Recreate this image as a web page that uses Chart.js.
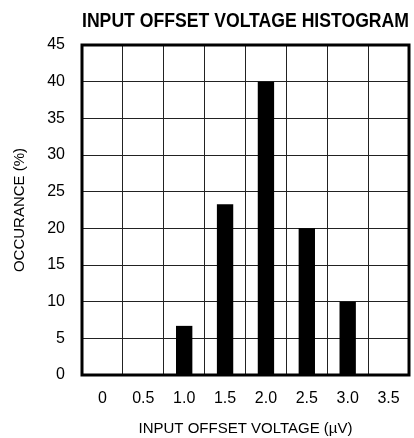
<!DOCTYPE html>
<html>
<head>
<meta charset="utf-8">
<script src="https://cdn.jsdelivr.net/npm/chart.js@4"></script>
<style>
  html, body { margin: 0; padding: 0; background: #fff; }
  #wrap { width: 414px; height: 438px; }
</style>
</head>
<body>
<div id="wrap"><canvas id="myChart"></canvas></div>
<script>
// histogram bins (µV) and occurance in %
const voltages = ['0', '0.5', '1.0', '1.5', '2.0', '2.5', '3.0', '3.5'];
const occurance = [0, 0, 6.7, 23.3, 40, 20, 10, 0];
const yTicks = [0, 5, 10, 15, 20, 25, 30, 35, 40, 45];

const narrow = "'Liberation Sans Narrow', 'Liberation Sans', sans-serif";

// thick black frame round the plot area
const frame = {
  id: 'frame',
  afterDraw(chart) {
    const a = chart.chartArea;
    const c = chart.ctx;
    c.save();
    c.strokeStyle = '#000';
    c.lineWidth = 3;
    c.strokeRect(a.left, a.top, a.right - a.left, a.bottom - a.top);
    c.restore();
  }
};

const ctx = document.getElementById('myChart');

new Chart(ctx, {
  type: 'bar',
  data: {
    labels: voltages,
    datasets: [{
      data: occurance,
      backgroundColor: '#000',
      borderWidth: 0,
      barPercentage: 0.4,
      categoryPercentage: 1
    }]
  },
  options: {
    responsive: true,
    maintainAspectRatio: false,
    animation: false,
    layout: { padding: { top: 0, right: 3, bottom: 0, left: 0 } },
    plugins: {
      legend: { display: false },
      tooltip: { enabled: false },
      title: {
        display: true,
        text: 'INPUT OFFSET VOLTAGE HISTOGRAM',
        fullSize: false,
        color: '#000',
        font: { family: narrow, size: 20, weight: 'bold' },
        padding: { top: 9, bottom: 12 }
      }
    },
    scales: {
      x: {
        grid: { color: '#222', lineWidth: 1, drawTicks: false },
        border: { display: false },
        ticks: { color: '#000', font: { family: narrow, size: 16 }, padding: 14 },
        title: {
          display: true,
          text: 'INPUT OFFSET VOLTAGE (µV)',
          color: '#000',
          font: { family: narrow, size: 15 },
          padding: { top: 7, bottom: 0 }
        },
        afterFit: (s) => { s.height = 63; }
      },
      y: {
        min: 0,
        max: 45,
        afterBuildTicks: (s) => { s.ticks = yTicks.map((v) => ({ value: v })); },
        grid: { color: '#222', lineWidth: 1, drawTicks: false },
        border: { display: false },
        ticks: { color: '#000', font: { family: narrow, size: 16 }, padding: 17 },
        title: {
          display: true,
          text: 'OCCURANCE (%)',
          color: '#000',
          font: { family: narrow, size: 15 },
          padding: { top: 11, bottom: 0 }
        },
        afterFit: (s) => { s.width = 82; }
      }
    }
  },
  plugins: [frame]
});
</script>
</body>
</html>
